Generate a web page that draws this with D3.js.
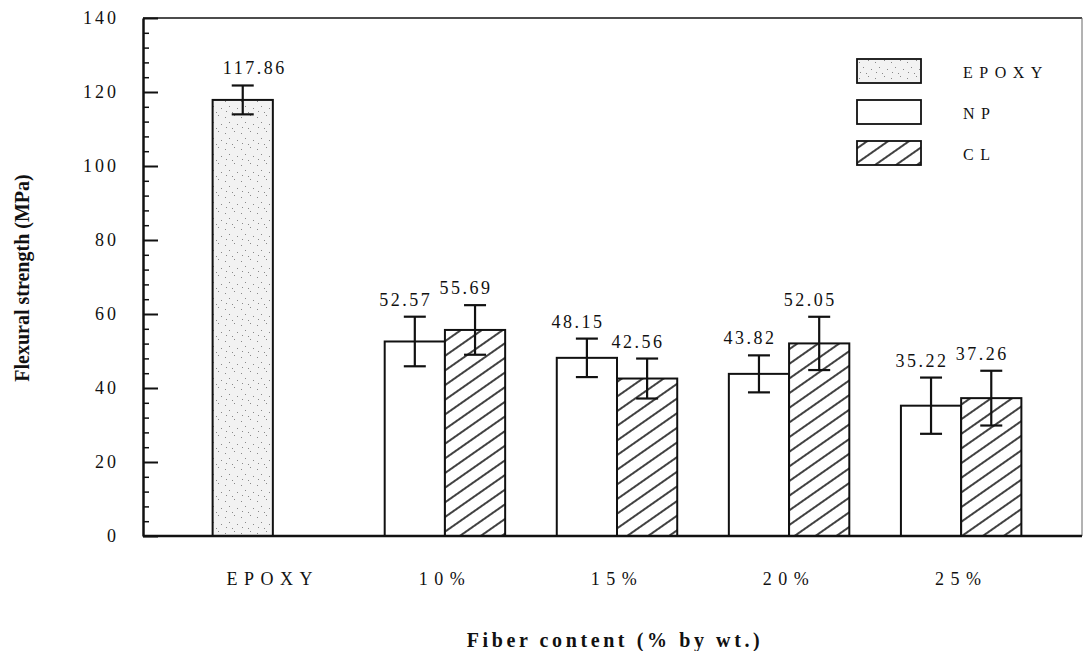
<!DOCTYPE html>
<html>
<head>
<meta charset="utf-8">
<script src="https://cdn.jsdelivr.net/npm/d3@7"></script>
<style>
  body { margin: 0; background: #fff; }
  text { font-family: "Liberation Serif", "Times New Roman", serif; fill: #111; }
</style>
</head>
<body>
<div id="chart"></div>
<script>
// categories on the x axis
var categories = ["EPOXY", "10%", "15%", "20%", "25%"];
var fiberContents = ["10%", "15%", "20%", "25%"];
var legendNames = ["EPOXY", "NP", "CL"];

// flexural strength (MPa) and error half-widths
var epoxyStrength = [117.86];
var epoxyError = [3.9];
var npStrength = [52.57, 48.15, 43.82, 35.22];
var npError = [6.7, 5.2, 5.0, 7.6];
var clStrength = [55.69, 42.56, 52.05, 37.26];
var clError = [6.7, 5.4, 7.2, 7.4];

var yTicks = [0, 20, 40, 60, 80, 100, 120, 140];

// build rows for drawing
var rows = [{cat: "EPOXY", series: "EPOXY", value: epoxyStrength[0], err: epoxyError[0]}];
fiberContents.forEach(function(c, i) {
  rows.push({cat: c, series: "NP", value: npStrength[i], err: npError[i]});
  rows.push({cat: c, series: "CL", value: clStrength[i], err: clError[i]});
});

var svgWidth = 1085;
var svgHeight = 651;
var chartMargin = {top: 18, right: 2, bottom: 115, left: 143};
var chartWidth = svgWidth - chartMargin.left - chartMargin.right;
var chartHeight = svgHeight - chartMargin.top - chartMargin.bottom;

var svg = d3.select("#chart").append("svg")
  .attr("width", svgWidth)
  .attr("height", svgHeight);

// patterns: stipple for epoxy, hatch for CL
var defs = svg.append("defs");
var dots = defs.append("pattern")
  .attr("id", "stipple")
  .attr("patternUnits", "userSpaceOnUse")
  .attr("width", 16).attr("height", 16);
dots.append("rect").attr("width", 16).attr("height", 16).attr("fill", "#f2f2f2");
[[2, 3], [11, 1], [6, 8], [14, 10], [3, 13], [9, 14]].forEach(function(p) {
  dots.append("rect").attr("x", p[0]).attr("y", p[1]).attr("width", 1).attr("height", 1).attr("fill", "#888");
});

var hatch = defs.append("pattern")
  .attr("id", "hatch")
  .attr("patternUnits", "userSpaceOnUse")
  .attr("width", 12).attr("height", 12)
  .attr("patternTransform", "rotate(55)");
hatch.append("rect").attr("width", 12).attr("height", 12).attr("fill", "#fff");
hatch.append("line")
  .attr("x1", 6).attr("y1", -1).attr("x2", 6).attr("y2", 13)
  .attr("stroke", "#111").attr("stroke-width", 1.6);

var fills = {EPOXY: "url(#stipple)", NP: "#fff", CL: "url(#hatch)"};

var chartGroup = svg.append("g")
  .attr("transform", `translate(${chartMargin.left}, ${chartMargin.top})`);

var yScale = d3.scaleLinear()
  .domain([0, 140])
  .range([chartHeight, 0]);

var xScale = d3.scaleBand()
  .domain(categories)
  .range([18, 930])
  .padding(0.3);

var xSub = d3.scaleBand()
  .domain(["NP", "CL"])
  .range([0, xScale.bandwidth()]);

function slot(d) { return d.series == "CL" ? "CL" : "NP"; }
function barX(d) { return xScale(d.cat) + xSub(slot(d)); }
function barMid(d) { return barX(d) + xSub.bandwidth() / 2; }

// frame: top and right
chartGroup.append("line")
  .attr("x1", 0).attr("x2", chartWidth - 1).attr("y1", 0).attr("y2", 0)
  .attr("stroke", "#111").attr("stroke-width", 1.5);
chartGroup.append("line")
  .attr("x1", chartWidth - 1).attr("x2", chartWidth - 1).attr("y1", 0).attr("y2", chartHeight)
  .attr("stroke", "#666").attr("stroke-width", 1);

// bars
chartGroup.selectAll(".bar")
  .data(rows)
  .enter()
  .append("rect")
  .attr("class", "bar")
  .attr("x", barX)
  .attr("width", xSub.bandwidth())
  .attr("y", d => yScale(d.value))
  .attr("height", d => chartHeight - yScale(d.value))
  .attr("fill", d => fills[d.series])
  .attr("stroke", "#111")
  .attr("stroke-width", 2);

// error bars
var errGroup = chartGroup.selectAll(".err")
  .data(rows)
  .enter()
  .append("g")
  .attr("class", "err")
  .attr("stroke", "#111")
  .attr("stroke-width", 2.2);
errGroup.append("line")
  .attr("x1", barMid).attr("x2", barMid)
  .attr("y1", d => yScale(d.value + d.err))
  .attr("y2", d => yScale(d.value - d.err));
errGroup.append("line")
  .attr("x1", d => barMid(d) - 11).attr("x2", d => barMid(d) + 11)
  .attr("y1", d => yScale(d.value + d.err))
  .attr("y2", d => yScale(d.value + d.err));
errGroup.append("line")
  .attr("x1", d => barMid(d) - 11).attr("x2", d => barMid(d) + 11)
  .attr("y1", d => yScale(d.value - d.err))
  .attr("y2", d => yScale(d.value - d.err));

// value labels
chartGroup.selectAll(".val")
  .data(rows)
  .enter()
  .append("text")
  .attr("class", "val")
  .attr("x", d => barMid(d) + (d.series == "EPOXY" ? 12 : -9))
  .attr("y", d => yScale(d.value + d.err) - 11)
  .attr("text-anchor", "middle")
  .style("font-size", "18px")
  .style("letter-spacing", "2.5px")
  .text(d => d.value.toFixed(2));

// y axis: major + minor ticks pointing inward
var minorTicks = d3.range(0, 141, 4).filter(v => v % 20 != 0);
chartGroup.append("g")
  .call(d3.axisLeft(yScale).tickValues(minorTicks).tickSize(-6).tickSizeOuter(0).tickFormat(""))
  .call(g => g.select(".domain").remove())
  .selectAll("line").attr("stroke", "#111").attr("stroke-width", 1.5);

var yAxis = chartGroup.append("g")
  .call(d3.axisLeft(yScale).tickValues(yTicks).tickSize(-15).tickSizeOuter(0).tickPadding(24));
yAxis.select(".domain").attr("stroke", "#111").attr("stroke-width", 2.5);
yAxis.selectAll("line").attr("stroke", "#111").attr("stroke-width", 2);
yAxis.selectAll("text")
  .style("font-family", '"Liberation Serif", serif')
  .style("font-size", "18px")
  .style("letter-spacing", "3px")
  .attr("fill", "#111");

// x axis
var xAxis = chartGroup.append("g")
  .attr("transform", `translate(0, ${chartHeight})`)
  .call(d3.axisBottom(xScale).tickSize(0).tickPadding(36));
xAxis.select(".domain").attr("stroke", "#111").attr("stroke-width", 2.5)
  .attr("d", `M0,0H${chartWidth - 1}`);
xAxis.selectAll("text")
  .style("font-family", '"Liberation Serif", serif')
  .style("font-size", "18px")
  .style("letter-spacing", "6.5px")
  .attr("fill", "#111");

// axis titles
svg.append("text")
  .attr("transform", "translate(29, 278) rotate(-90)")
  .attr("text-anchor", "middle")
  .style("font-size", "20px")
  .style("font-weight", "bold")
  .text("Flexural strength (MPa)");

svg.append("text")
  .attr("x", 615)
  .attr("y", 647)
  .attr("text-anchor", "middle")
  .style("font-size", "20px")
  .style("font-weight", "bold")
  .style("letter-spacing", "3.6px")
  .text("Fiber content (% by wt.)");

// legend
var legend = svg.selectAll(".legend")
  .data(legendNames)
  .enter()
  .append("g")
  .attr("class", "legend")
  .attr("transform", (d, i) => `translate(857, ${59 + i * 41})`);
legend.append("rect")
  .attr("width", 64).attr("height", 24)
  .attr("fill", d => fills[d])
  .attr("stroke", "#111").attr("stroke-width", 1.8);
legend.append("text")
  .attr("x", 106).attr("y", 19)
  .style("font-size", "16px")
  .style("letter-spacing", "6.5px")
  .text(d => d);
</script>
</body>
</html>
